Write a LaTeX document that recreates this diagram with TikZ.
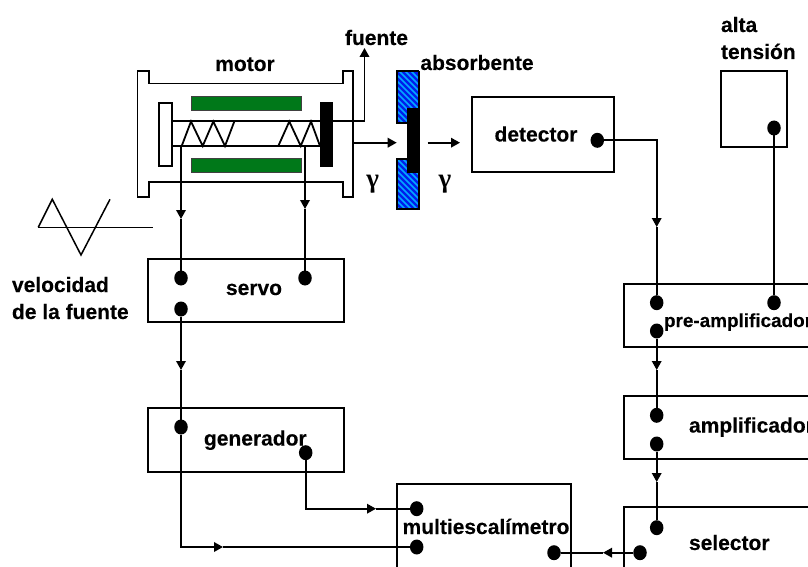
\documentclass[tikz,border=0pt]{standalone}
\usepackage{fontspec}
\setmainfont[BoldFeatures={FakeBold=0.2}]{Liberation Sans}
\newfontfamily\gammafont{Liberation Serif}
\usetikzlibrary{arrows.meta,shapes.geometric}
\definecolor{motorgreen}{RGB}{0,120,25}
\definecolor{absblue}{RGB}{0,30,235}
\definecolor{abscyan}{RGB}{0,170,255}
\tikzset{
  x=1pt,y=-1pt,
  ln/.style={line width=1.8pt,draw=black},
  blockbox/.style={draw=black,line width=1.8pt,fill=none,rectangle,anchor=north west,inner sep=0pt,outer sep=0pt},
  port/.style={ellipse,fill=black,draw=none,minimum width=13.5pt,minimum height=15pt,inner sep=0pt,outer sep=0pt},
  lab/.style={font=\fontsize{21}{24}\selectfont\bfseries,inner sep=0pt,outer sep=0pt,anchor=base},
  lableft/.style={lab,anchor=base west},
  gam/.style={font=\fontsize{27}{28}\selectfont\bfseries\gammafont,inner sep=0pt},
  tipped/.style={-{Triangle[length=9pt,width=9.5pt]}},
}
\newcommand{\stripes}{%
  \foreach \s in {0,6,...,170}{
    \draw[abscyan,line width=1.6pt] (380,40+\s) -- (440,100+\s);
  }}
\begin{document}
\begin{tikzpicture}
\path[use as bounding box,clip] (0,0) rectangle (808,567);
\fill[white] (0,0) rectangle (808,567);

% motor body
\draw[ln,fill=white] (137.5,71) -- (149,71) -- (149,83.5) -- (342.7,83.5) -- (342.7,71) -- (353.3,71)
   -- (353.3,196.7) -- (342.7,196.7) -- (342.7,182) -- (149,182) -- (149,196.7) -- (137.5,196.7) -- cycle;
\fill[motorgreen,draw=black!75,line width=0.9pt] (191,96.7) rectangle (301,110);
\fill[motorgreen,draw=black!75,line width=0.9pt] (191,158) rectangle (301,172.7);
\draw[ln,fill=white] (159,103) rectangle (171.7,166);
\coordinate (railtop) at (171.7,121);
\coordinate (railbot) at (171.7,146);
\coordinate (railtopend) at (320,121);
\coordinate (railbotend) at (320,146);
\draw[ln] (railtop) -- (railtopend);
\draw[ln] (railbot) -- (railbotend);
\draw[ln,line join=miter] (181.7,146) -- (191,121.5) -- (202.7,146) -- (213.3,121.5) -- (225,146) -- (234.3,121.5);
\draw[ln,line join=miter] (278.3,146) -- (289.3,121.5) -- (300.7,146) -- (311,121.5) -- (320,146);
\node[fill=black,inner sep=0pt,minimum width=13pt,minimum height=65pt] (carrier) at (326.5,134.5) {};

% absorber
\begin{scope}
  \clip (396.7,71) rectangle (419,122.7) (396.7,159) rectangle (419,209);
  \fill[absblue] (390,60) rectangle (425,215);
  \stripes
\end{scope}
\draw[ln] (419,71) -- (396.7,71) -- (396.7,122.7) -- (407.3,122.7);
\draw[ln] (419,71) -- (419,108);
\draw[ln] (407.3,159) -- (396.7,159) -- (396.7,209) -- (419,209) -- (419,172);
\fill[black] (407.3,108) rectangle (420,172.7);

% boxes
\node[blockbox,minimum width=195.7pt,minimum height=63.3pt] (servo) at (148.3,259) {};
\node[blockbox,minimum width=195.7pt,minimum height=64pt] (generador) at (148.3,408) {};
\node[blockbox,minimum width=174pt,minimum height=130pt] (multi) at (396.7,484) {};
\node[blockbox,minimum width=142pt,minimum height=75pt] (detector) at (472,96.7) {};
\node[blockbox,minimum width=66pt,minimum height=76pt] (alta) at (720.7,71) {};
\node[blockbox,minimum width=260pt,minimum height=62.7pt] (pre) at (623.7,284) {};
\node[blockbox,minimum width=260pt,minimum height=63.3pt] (ampli) at (623.7,396) {};
\node[blockbox,minimum width=260pt,minimum height=130pt] (selector) at (623.7,507.3) {};

% ports
\node[port] (sA) at (181,278) {};
\node[port] (sB) at (305,278) {};
\node[port] (sC) at (181,309) {};
\node[port] (gA) at (181,427) {};
\node[port] (gB) at (305.7,452.7) {};
\node[port] (mA) at (416.7,508.7) {};
\node[port] (mB) at (416.7,547) {};
\node[port] (mC) at (554,552.7) {};
\node[port] (dA) at (597.3,140.3) {};
\node[port] (hA) at (774,128) {};
\node[port] (pA) at (656.7,302.7) {};
\node[port] (pB) at (774,302.7) {};
\node[port] (pC) at (656.7,331) {};
\node[port] (aA) at (656.7,415.3) {};
\node[port] (aB) at (656.7,444) {};
\node[port] (seA) at (656.7,527.7) {};
\node[port] (seB) at (640,552.7) {};

% free ends and arrowhead positions
\coordinate (mot1) at (181,146);
\coordinate (mot2) at (305,146);
\coordinate (tip1) at (181,219);
\coordinate (tip2) at (305,209);
\coordinate (tip3) at (181,370);
\coordinate (tip4) at (223,547);
\coordinate (tip5) at (376,508.7);
\coordinate (tip6) at (656.7,227);
\coordinate (tip7) at (656.7,370);
\coordinate (tip8) at (656.7,482);
\coordinate (tip9) at (603,552.7);
\coordinate (srcstart) at (333,121);
\coordinate (srctip) at (364.5,48);
\coordinate (g1a) at (354,142.7);
\coordinate (g1b) at (396.7,142.7);
\coordinate (g2a) at (427.7,142.7);
\coordinate (g2b) at (460,142.7);

% connectors
\draw[ln,tipped] (mot1) -- (tip1);
\draw[ln] (tip1) -- (sA);
\draw[ln,tipped] (mot2) -- (tip2);
\draw[ln] (tip2) -- (sB);
\draw[ln,tipped] (sC) -- (tip3);
\draw[ln] (tip3) -- (gA);
\draw[ln,tipped] (gA) |- (tip4);
\draw[ln] (tip4) -- (mB);
\draw[ln,tipped] (gB) |- (tip5);
\draw[ln] (tip5) -- (mA);
\draw[ln,tipped] (dA) -| (tip6);
\draw[ln] (tip6) -- (pA);
\draw[ln] (hA) -- (pB);
\draw[ln,tipped] (pC) -- (tip7);
\draw[ln] (tip7) -- (aA);
\draw[ln,tipped] (aB) -- (tip8);
\draw[ln] (tip8) -- (seA);
\draw[ln,tipped] (seB) -- (tip9);
\draw[ln] (tip9) -- (mC);
\draw[ln,tipped] (srcstart) -| (srctip);
\draw[ln,tipped] (g1a) -- (g1b);
\draw[ln,tipped] (g2a) -- (g2b);

% velocity wave
\coordinate (w0) at (38.3,227.3);
\coordinate (w1) at (152.7,227.3);
\draw[ln,line width=1.5pt] (w0) -- (w1);
\draw[ln,line width=1.5pt] (w0) -- (52.3,199.3) -- (81,255) -- (110,199.3);

% labels
\node[lab] (lmotor) at (245,71) {motor};
\node[lab] (lfuente) at (376.5,45) {fuente};
\node[lab] (labs) at (477,70) {absorbente};
\node[lab] (ldet) at (536,141.5) {detector};
\node[lableft] (lalta) at (721,32) {alta};
\node[lableft] (lten) at (721,59) {tensión};
\node[lableft] (lvel) at (12,292) {velocidad};
\node[lableft] (lde) at (12,319) {de la fuente};
\node[lab] (lservo) at (254,295) {servo};
\node[lab] (lgen) at (255.3,445.5) {generador};
\node[lab] (lmul) at (486,534) {multiescalímetro};
\node[lableft,font=\fontsize{18.9}{22}\selectfont\bfseries] (lpre) at (664,327) {pre-amplificador};
\node[lableft] (lamp) at (689,432.5) {amplificador};
\node[lableft] (lsel) at (689,550) {selector};
\node[gam] (gamma1) at (372.7,184) {γ};
\node[gam] (gamma2) at (445,184) {γ};
\end{tikzpicture}
\end{document}
